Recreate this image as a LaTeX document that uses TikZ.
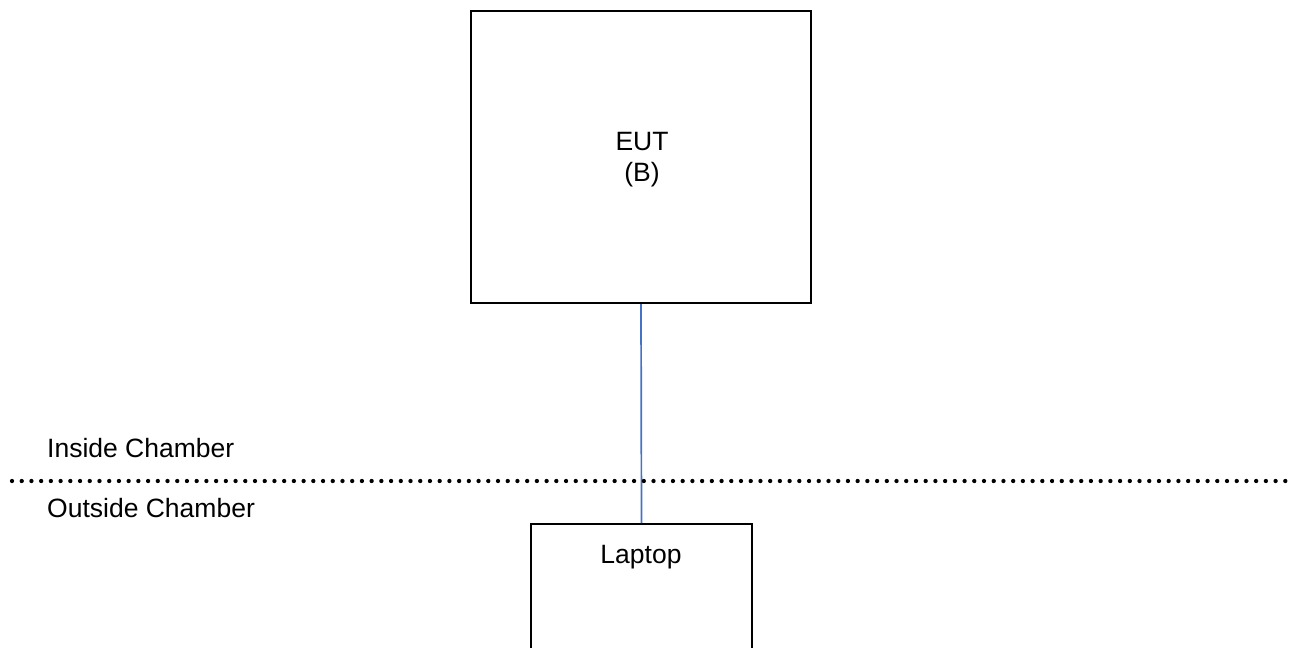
\documentclass[tikz,border=0pt]{standalone}
\usepackage{fontspec}
\setmainfont{Liberation Sans}
\begin{document}
\begin{tikzpicture}[x=1pt,y=1pt,
  lbl/.style={font=\fontsize{26.5}{31}\selectfont, inner sep=0pt},
  box/.style={draw=black, line width=2pt, inner sep=0pt},
  cable/.style={draw={rgb,255:red,68;green,114;blue,196}, line width=1.7pt},
  divider/.style={line width=4.3pt, line cap=round, dash pattern=on 0pt off 9.72pt}]
\useasboundingbox (0,0) rectangle (1296,-648);
\clip (0,0) rectangle (1296,-648);
\fill[white] (0,0) rectangle (1296,-648);
\node[box, minimum width=340pt, minimum height=292pt] (eut) at (641,-157) {};
\node[lbl, align=center] (euttext) at (642,-160) {EUT\\(B)};
\node[box, minimum width=221pt, minimum height=180pt, anchor=north] (laptop) at (641.5,-523) {};
\node[lbl, anchor=base] (laptoplabel) at (641,-563) {Laptop};
\draw[cable] (eut.south) -- (laptop.north);
\coordinate (divL) at (12,-481);
\coordinate (divR) at (1290,-481);
\draw[divider] (divL) -- (divR);
\node[lbl, anchor=base west] (inside) at (47,-457) {Inside Chamber};
\node[lbl, anchor=base west] (outside) at (47,-517) {Outside Chamber};
\end{tikzpicture}
\end{document}
